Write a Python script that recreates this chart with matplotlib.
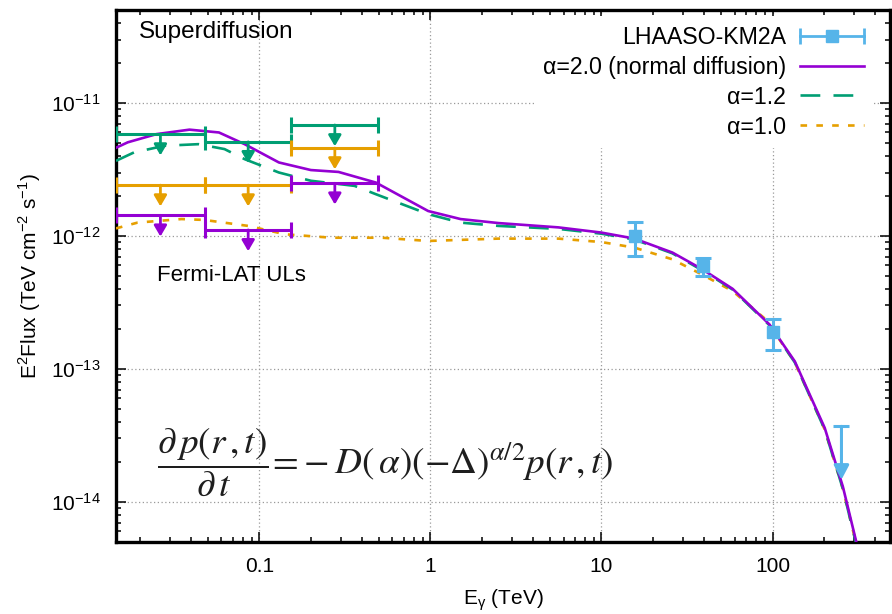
import matplotlib
matplotlib.use("Agg")
import matplotlib.pyplot as plt
from matplotlib.lines import Line2D
from matplotlib.legend_handler import HandlerBase
from matplotlib.ticker import LogLocator, FixedLocator, FuncFormatter, NullFormatter
import numpy as np

plt.rcParams['font.family'] = ['Liberation Sans', 'DejaVu Sans']
plt.rcParams['axes.unicode_minus'] = False

# Colours (gnuplot default palette)
PURPLE = '#9400D3'
GREEN = '#009E73'
ORANGE = '#E69F00'
BLUE = '#56B4E9'

# Model curves, E in TeV, E^2 flux in TeV cm^-2 s^-1
e_a20 = [0.0145, 0.017, 0.025, 0.039, 0.058, 0.082, 0.13, 0.20, 0.29, 0.48,
         0.97, 1.5, 2.5, 5.6, 10, 15.6, 26, 39, 58.5, 96, 135, 202, 258, 309]
f_a20 = [4.6e-12, 5.06e-12, 5.83e-12, 6.3e-12, 6.0e-12, 4.9e-12, 3.57e-12, 3.13e-12,
         3.03e-12, 2.52e-12, 1.54e-12, 1.34e-12, 1.25e-12, 1.16e-12, 1.06e-12,
         0.955e-12, 7.5e-13, 5.6e-13, 4.0e-13, 2.16e-13, 1.14e-13, 3.6e-14,
         1.3e-14, 5.0e-15]

e_a12 = [0.0145, 0.0185, 0.028, 0.044, 0.0625, 0.082, 0.13, 0.20, 0.36, 0.48,
         0.97, 1.5, 2.5, 5.6, 10, 15.6, 26, 39, 58.5, 96, 135, 202, 258, 309]
f_a12 = [3.67e-12, 4.25e-12, 4.77e-12, 4.9e-12, 4.5e-12, 3.78e-12, 3.0e-12, 2.6e-12,
         2.38e-12, 2.06e-12, 1.46e-12, 1.26e-12, 1.19e-12, 1.13e-12, 1.04e-12,
         0.94e-12, 7.4e-13, 5.5e-13, 3.95e-13, 2.13e-13, 1.12e-13, 3.5e-14,
         1.25e-14, 4.8e-15]

e_a10 = [0.0145, 0.0194, 0.035, 0.0475, 0.086, 0.141, 0.264, 0.52, 0.97, 2.5,
         5.6, 10, 15.6, 26, 39, 58.5, 91.6, 135, 202, 258, 309]
f_a10 = [1.14e-12, 1.26e-12, 1.34e-12, 1.32e-12, 1.19e-12, 1.03e-12, 0.97e-12,
         0.97e-12, 0.917e-12, 0.955e-12, 0.955e-12, 0.90e-12, 0.817e-12, 0.667e-12,
         0.51e-12, 0.385e-12, 0.235e-12, 1.12e-13, 3.5e-14, 1.25e-14, 4.8e-15]

# LHAASO-KM2A points
e_km2a = [15.6, 39.4, 100]
f_km2a = [1.0e-12, 5.9e-13, 1.89e-13]
f_km2a_lo = [0.71e-12, 5.0e-13, 1.40e-13]
f_km2a_hi = [1.28e-12, 6.88e-13, 2.36e-13]
e_km2a_ul = 253
f_km2a_ul = 3.7e-14
f_km2a_ul_tip = 1.47e-14

# Fermi-LAT upper limits (bin edges shared by all three models)
fermi_edges = [0.0145, 0.048, 0.154, 0.495]
ul_a12 = [5.83e-12, 5.1e-12, 6.83e-12]
ul_a10 = [2.41e-12, 2.41e-12, 4.58e-12]
ul_a20 = [1.43e-12, 1.11e-12, 2.49e-12]

x_ticks = [0.1, 1, 10, 100]
y_ticks = [1e-14, 1e-13, 1e-12, 1e-11]


class HandlerHErr(HandlerBase):
    # gnuplot-like key sample: horizontal bar with end caps and a square
    def create_artists(self, legend, orig_handle, xdescent, ydescent, width,
                       height, fontsize, trans):
        y = (height - ydescent) / 2
        x0, x1 = -xdescent, width - xdescent
        bar = Line2D([x0, x1], [y, y], color=BLUE, lw=2)
        caps = Line2D([x0, x1], [y, y], ls='none', marker='|', ms=11,
                      mew=2, color=BLUE)
        sq = Line2D([(x0 + x1) / 2], [y], ls='none', marker='s', ms=9,
                    color=BLUE)
        for a in (bar, caps, sq):
            a.set_transform(trans)
        return [bar, caps, sq]


fig = plt.figure(figsize=(8.92, 6.14), dpi=100)
ax = fig.add_axes([0.130, 0.1173, 0.8677, 0.8664])
ax.set_xscale('log')
ax.set_yscale('log')
ax.set_xlim(0.0145, 486)
ax.set_ylim(5e-15, 5e-11)

# grid
ax.grid(True, which='major', color='#9a9a9a', lw=0.9, ls=(0, (1, 2)))
ax.set_axisbelow(True)

# model curves (normal diffusion on top)
l10, = ax.plot(e_a10, f_a10, color=ORANGE, lw=1.9, dashes=(2.5, 3.5), zorder=3)
l12, = ax.plot(e_a12, f_a12, color=GREEN, lw=1.9, dashes=(7.5, 5), zorder=3.1)
l20, = ax.plot(e_a20, f_a20, color=PURPLE, lw=1.9, zorder=3.2)

# Fermi-LAT upper limits
lo_edges = np.array(fermi_edges[:-1])
hi_edges = np.array(fermi_edges[1:])
centers = np.sqrt(lo_edges * hi_edges)
arrow_drop = 10 ** -0.16
for uls, c in ((ul_a12, GREEN), (ul_a10, ORANGE), (ul_a20, PURPLE)):
    uls = np.array(uls)
    ax.errorbar(centers, uls, xerr=[centers - lo_edges, hi_edges - centers],
                fmt='none', ecolor=c, elinewidth=2.2, capsize=6, capthick=2.2,
                zorder=4)
    for xc, yv in zip(centers, uls):
        ax.annotate('', xy=(xc, yv * arrow_drop), xytext=(xc, yv),
                    arrowprops=dict(arrowstyle='-|>,head_length=0.65,head_width=0.38',
                                    color=c, lw=2, shrinkA=0, shrinkB=0),
                    zorder=4)

# LHAASO-KM2A
f_km2a_a = np.array(f_km2a)
yerr = [f_km2a_a - np.array(f_km2a_lo), np.array(f_km2a_hi) - f_km2a_a]
ax.errorbar(e_km2a, f_km2a, yerr=yerr, fmt='s', color=BLUE, ms=9,
            elinewidth=2.2, capsize=6, capthick=2.2, zorder=5)
ax.plot([e_km2a_ul], [f_km2a_ul], marker='_', ms=12, mew=2.2, color=BLUE,
        zorder=5)
ax.annotate('', xy=(e_km2a_ul, f_km2a_ul_tip), xytext=(e_km2a_ul, f_km2a_ul),
            arrowprops=dict(arrowstyle='-|>,head_length=0.85,head_width=0.45',
                            color=BLUE, lw=2.2, shrinkA=0, shrinkB=0),
            zorder=5)

# ticks
ax.xaxis.set_major_locator(FixedLocator(x_ticks))
ax.xaxis.set_minor_locator(LogLocator(base=10, subs=np.arange(2, 10), numticks=20))
ax.xaxis.set_major_formatter(FuncFormatter(lambda v, p: f'{v:g}'))
ax.xaxis.set_minor_formatter(NullFormatter())
ax.yaxis.set_major_locator(FixedLocator(y_ticks))
ax.yaxis.set_major_formatter(
    FuncFormatter(lambda v, p: r'$\mathdefault{10^{%d}}$' % round(np.log10(v))))
ax.yaxis.set_minor_locator(LogLocator(base=10, subs=np.arange(2, 10), numticks=20))
ax.yaxis.set_minor_formatter(NullFormatter())
ax.tick_params(which='both', direction='in', top=True, right=True, width=1.1)
ax.tick_params(which='major', length=7.5, labelsize=15, pad=11)
ax.tick_params(which='minor', length=3.8)
for s in ax.spines.values():
    s.set_linewidth(2.4)

ax.set_xlabel(r'E$_{\mathdefault{γ}}$ (TeV)', fontsize=15, labelpad=8)
ax.set_ylabel(r'E$^{\mathdefault{2}}$Flux (TeV cm$^{\mathdefault{-2}}$ s$^{\mathdefault{-1}}$)',
              fontsize=15, labelpad=6)

# texts
ax.text(0.030, 0.959, 'Superdiffusion', transform=ax.transAxes, fontsize=17.5,
        ha='left', va='center')
ax.text(0.0526, 0.50, 'Fermi-LAT ULs', transform=ax.transAxes, fontsize=16,
        ha='left', va='center')
ax.text(0.053, 0.15,
        r'$\dfrac{\partial\, p(r\,,t)}{\partial\, t}\!=\!-D(\,\alpha)(-\Delta)^{\alpha/2}p(r\,,t)$',
        transform=ax.transAxes, fontsize=26.8, ha='left', va='center',
        color='#1e1e1e', math_fontfamily='stix')

# legend
km2a_proxy = Line2D([], [], color=BLUE)
leg = ax.legend([km2a_proxy, l20, l12, l10],
                ['LHAASO-KM2A', 'α=2.0 (normal diffusion)', 'α=1.2', 'α=1.0'],
                handler_map={km2a_proxy: HandlerHErr()},
                loc='upper right', bbox_to_anchor=(0.978, 0.988),
                markerfirst=False, fontsize=16.7,
                frameon=True, facecolor='white', edgecolor='none', framealpha=1,
                fancybox=False, handlelength=2.75, handletextpad=0.6,
                labelspacing=0.3, borderaxespad=0, borderpad=0.4)
for col in leg._legend_handle_box.get_children():
    col.align = 'right'

fig.savefig('out.png', dpi=100)
